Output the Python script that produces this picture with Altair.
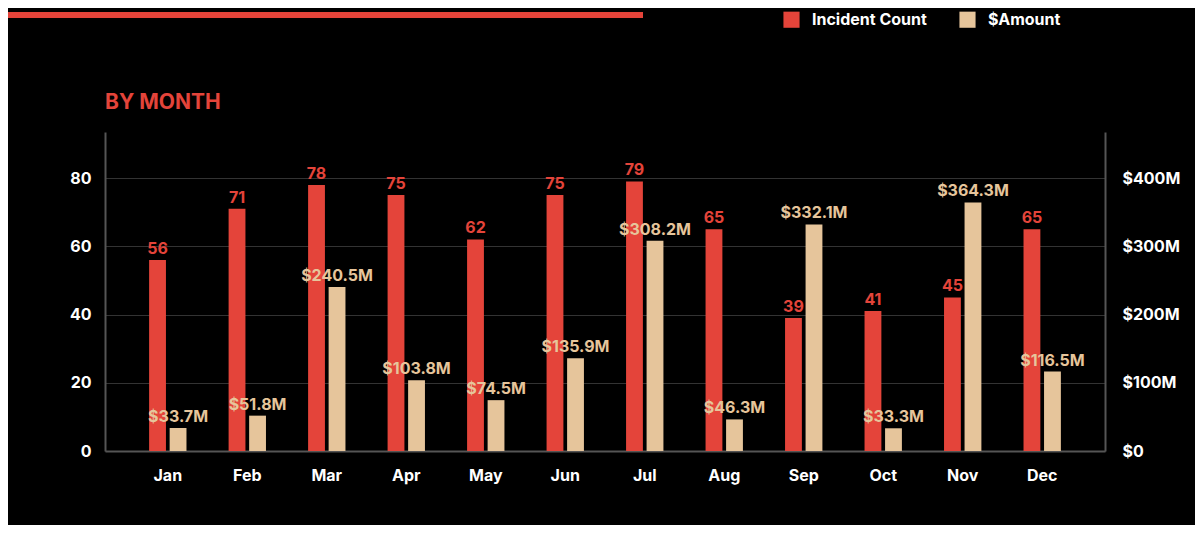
import altair as alt
import pandas as pd

months = ["Jan", "Feb", "Mar", "Apr", "May", "Jun", "Jul", "Aug", "Sep", "Oct", "Nov", "Dec"]
incident_count = [56, 71, 78, 75, 62, 75, 79, 65, 39, 41, 45, 65]
amount_musd = [33.7, 51.8, 240.5, 103.8, 74.5, 135.9, 308.2, 46.3, 332.1, 33.3, 364.3, 116.5]
series_names = ["Incident Count", "$Amount"]
count_ticks = [0, 20, 40, 60, 80]
amount_ticks = [0, 100, 200, 300, 400]
title_text = ["BY MONTH"]

RED = "#E4443A"
TAN = "#E6C59B"
FONT = "Inter"

count_df = pd.DataFrame({"month": months, "value": incident_count, "series": series_names[0]})
count_df["label"] = count_df["value"].astype(str)
amount_df = pd.DataFrame({"month": months, "value": amount_musd, "series": series_names[1]})
amount_df["label"] = amount_df["value"].map(lambda v: f"${v:.1f}M")
title_df = pd.DataFrame({"t": title_text})

x_enc = alt.X("month:N", sort=months, title=None,
              scale=alt.Scale(paddingInner=0.53, paddingOuter=0.555),
              axis=alt.Axis(labelColor="white", labelFont=FONT, labelFontSize=16,
                            labelFontWeight="bold", labelPadding=16, labelAngle=0,
                            ticks=False, domainColor="#555555", domainWidth=2, grid=False))
xoff = alt.XOffset("series:N", sort=series_names,
                   scale=alt.Scale(domain=series_names, paddingInner=0.18, paddingOuter=0))
color_enc = alt.Color("series:N",
                      scale=alt.Scale(domain=series_names, range=[RED, TAN]),
                      legend=alt.Legend(title=None, orient="none", legendX=678, legendY=-121,
                                        direction="horizontal", symbolType="square",
                                        symbolSize=260, symbolStrokeWidth=0, symbolOpacity=1,
                                        labelColor="white", labelFont=FONT, labelFontSize=16,
                                        labelFontWeight="bold", labelOffset=12,
                                        columnPadding=32))

y_left = alt.Y("value:Q", title=None,
               scale=alt.Scale(domain=[0, 93.5], nice=False, zero=True),
               axis=alt.Axis(orient="left", values=count_ticks, labelColor="white",
                             labelFont=FONT, labelFontSize=16, labelFontWeight="bold",
                             labelPadding=14, ticks=False, domainColor="#555555",
                             domainWidth=2, grid=True, gridColor="#333333", gridWidth=1))
y_right = alt.Y("value:Q", title=None,
                scale=alt.Scale(domain=[0, 467.5], nice=False, zero=True),
                axis=alt.Axis(orient="right", values=amount_ticks,
                              labelExpr="datum.value == 0 ? '$0' : '$' + datum.value + 'M'",
                              labelColor="white",
                              labelFont=FONT, labelFontSize=16, labelFontWeight="bold",
                              labelPadding=17, ticks=False, domainColor="#555555",
                              domainWidth=2, grid=False))

red_bars = alt.Chart(count_df).mark_bar().encode(x=x_enc, xOffset=xoff, y=y_left, color=color_enc)
red_text = alt.Chart(count_df).mark_text(color=RED, font=FONT, fontSize=16, fontWeight="bold",
                                         baseline="bottom", dy=-3).encode(
    x=x_enc, xOffset=xoff, y=y_left, text="label:N")
top_rule = alt.Chart(count_df).mark_rule(color=RED, strokeWidth=5).encode(
    x=alt.value(-97), x2=alt.value(538), y=alt.value(-117))
title_mark = alt.Chart(title_df).mark_text(color=RED, font=FONT, fontSize=21, fontWeight="bold",
                                           align="left", baseline="alphabetic").encode(
    x=alt.value(0), y=alt.value(-23), text="t:N")

tan_bars = alt.Chart(amount_df).mark_bar().encode(x=x_enc, xOffset=xoff, y=y_right, color=color_enc)
tan_text = alt.Chart(amount_df).mark_text(color=TAN, font=FONT, fontSize=16, fontWeight="bold",
                                          baseline="bottom", dy=-3).encode(
    x=x_enc, xOffset=xoff, y=y_right, text="label:N")

left = alt.layer(red_bars, red_text, top_rule, title_mark)
right = alt.layer(tan_bars, tan_text)

chart = alt.layer(left, right).resolve_scale(y="independent").properties(
    width=1000, height=319,
    autosize=alt.AutoSizeParams(type="none"),
    padding={"left": 97, "top": 124, "right": 90, "bottom": 74},
    background="black",
).configure_view(stroke=None)

chart.save("out.html", embed_options={"renderer": "svg", "actions": False})
